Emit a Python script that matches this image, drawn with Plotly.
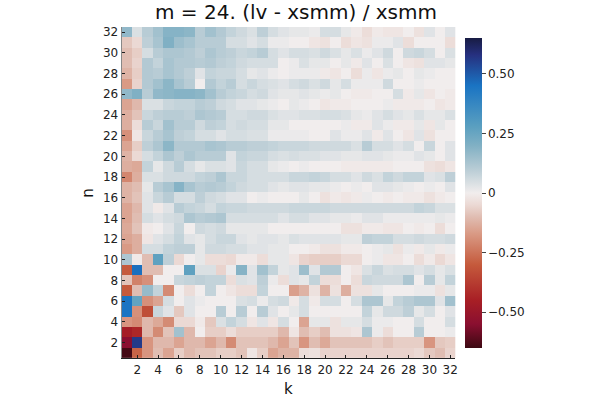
import plotly.graph_objects as go

k_values = list(range(1, 33))
n_values = list(range(1, 33))
x_tick_labels = [str(v) for v in range(2, 33, 2)]
y_tick_labels = [str(v) for v in range(2, 33, 2)]
cbar_tick_vals = [-0.5, -0.25, 0.0, 0.25, 0.5]
cbar_tick_text = ["\u22120.50", "\u22120.25", "0", "0.25", "0.50"]

# each row: values for k = 1..32
row_32 = [0.17,0.04,0.10,0.14,0.19,0.19,0.18,0.10,0.14,0.11,0.08,0.06,0.04,0.09,0.05,0.03,0.02,0.02,0.01,0.05,0.05,0.02,-0.01,-0.04,-0.01,-0.02,-0.02,0.00,-0.03,0.03,0.00,0.03]
row_31 = [-0.08,-0.05,0.09,0.13,0.20,0.15,0.13,0.10,0.10,0.10,0.05,0.05,0.03,0.05,0.01,0.01,0.00,0.00,-0.02,-0.03,0.00,-0.04,-0.02,-0.03,0.01,0.01,0.03,-0.04,0.00,0.00,0.00,-0.04]
row_30 = [-0.10,-0.07,0.05,0.10,0.12,0.12,0.11,0.09,0.12,0.10,0.09,0.07,0.08,0.10,0.05,0.03,0.05,0.05,0.04,0.06,0.04,0.02,0.04,0.01,0.03,0.06,0.00,0.06,0.07,0.05,0.00,0.04]
row_29 = [-0.10,-0.06,0.11,0.08,0.13,0.11,0.11,0.10,0.11,0.09,0.08,0.06,0.05,0.05,0.05,0.00,0.01,0.04,0.02,0.02,0.00,0.02,-0.01,0.03,0.00,0.04,0.00,-0.02,-0.03,0.03,0.03,0.02]
row_28 = [-0.12,-0.07,0.11,0.10,0.13,0.11,0.09,0.03,0.08,0.07,0.07,0.05,0.02,0.03,0.01,0.00,0.01,0.01,0.01,-0.01,-0.02,0.00,-0.04,0.01,-0.02,0.01,0.02,0.00,0.02,0.01,0.00,0.00]
row_27 = [-0.17,-0.06,0.11,0.14,0.18,0.13,0.10,0.00,0.11,0.08,0.10,0.05,0.07,0.05,0.04,0.03,0.05,0.06,0.04,0.06,0.02,0.05,0.01,0.01,0.01,0.06,0.00,0.00,0.01,0.00,0.00,0.00]
row_26 = [0.17,0.20,0.10,0.17,0.18,0.19,0.19,0.18,0.14,0.10,0.08,0.07,0.05,0.06,0.03,0.02,0.02,0.03,0.02,0.01,0.02,0.00,-0.01,-0.01,0.00,0.00,0.05,-0.01,0.02,-0.02,0.00,-0.01]
row_25 = [-0.15,-0.11,0.04,0.04,0.07,0.08,0.08,0.10,0.09,0.06,0.05,0.03,0.03,0.02,0.01,0.00,0.02,0.01,0.00,-0.02,-0.01,-0.01,0.00,0.00,0.00,0.01,-0.01,-0.01,-0.01,0.00,-0.02,-0.01]
row_24 = [-0.13,-0.09,0.07,0.09,0.10,0.10,0.09,0.12,0.11,0.10,0.05,0.05,0.06,0.06,0.04,0.03,0.03,0.04,0.04,0.05,0.05,0.04,0.02,0.01,0.03,0.05,0.03,0.02,0.04,0.02,0.02,0.04]
row_23 = [-0.13,-0.04,0.10,0.07,0.14,0.10,0.10,0.06,0.09,0.08,0.05,0.06,0.05,0.05,0.02,0.02,0.00,0.00,0.00,0.00,0.00,0.01,-0.01,-0.01,0.03,0.01,-0.01,-0.01,0.02,-0.02,0.02,0.00]
row_22 = [-0.19,-0.02,0.07,0.10,0.13,0.09,0.08,0.05,0.05,0.03,0.05,0.05,0.04,0.04,0.01,0.01,0.01,0.01,0.00,0.00,0.03,0.01,0.01,0.03,-0.01,0.03,0.00,-0.02,0.03,-0.03,0.00,0.00]
row_21 = [-0.15,-0.07,0.09,0.12,0.18,0.11,0.11,0.11,0.13,0.12,0.10,0.10,0.09,0.09,0.08,0.07,0.07,0.07,0.06,0.06,0.06,0.06,0.04,0.10,0.05,0.05,0.03,0.05,0.00,0.07,0.00,0.03]
row_20 = [-0.12,-0.05,0.05,0.08,0.12,0.09,0.12,0.10,0.10,0.10,0.03,0.08,0.07,0.07,0.05,0.04,0.05,0.04,0.04,0.03,0.03,0.02,0.02,0.03,0.03,0.02,0.01,0.01,0.03,0.02,0.00,0.03]
row_19 = [-0.13,-0.14,0.08,0.02,0.06,0.10,0.05,0.02,0.04,0.04,0.03,0.07,0.05,0.05,0.02,0.01,0.00,0.01,0.00,0.00,0.00,-0.01,-0.01,-0.01,-0.01,-0.01,0.00,0.00,0.00,-0.03,-0.04,-0.02]
row_18 = [-0.21,-0.13,0.04,0.04,0.06,0.06,0.06,0.08,0.09,0.12,0.07,0.07,0.05,0.05,0.05,0.05,0.07,0.07,0.08,0.07,0.05,0.05,0.03,0.06,0.04,0.08,0.06,0.08,0.08,0.03,0.04,0.09]
row_17 = [-0.12,-0.10,0.02,0.10,0.13,0.19,0.13,0.10,0.11,0.10,0.08,0.06,0.05,0.05,0.03,0.02,0.03,0.03,0.02,0.02,0.01,0.00,0.01,0.00,0.03,0.03,0.02,0.01,0.00,0.01,0.00,0.03]
row_16 = [-0.12,-0.09,0.03,0.07,0.10,0.05,0.05,0.09,0.06,0.05,0.03,0.03,0.00,0.01,0.00,0.00,0.00,0.02,0.00,-0.03,-0.01,-0.02,-0.01,0.01,0.00,-0.01,0.00,-0.01,-0.01,-0.03,-0.01,0.00]
row_15 = [-0.15,-0.11,0.03,-0.01,0.03,0.10,0.08,0.07,0.05,0.08,0.07,0.07,0.06,0.06,0.06,0.06,0.07,0.07,0.07,0.07,0.06,0.06,0.06,0.06,0.06,0.06,0.06,0.06,0.08,0.07,0.04,0.04]
row_14 = [-0.15,-0.10,0.05,0.03,0.05,0.06,0.12,0.10,0.11,0.12,0.05,0.05,0.05,0.05,0.05,0.03,0.05,0.05,0.03,0.03,0.02,0.02,0.01,0.03,0.03,0.01,0.01,0.01,0.01,0.01,0.02,0.01]
row_13 = [-0.14,-0.09,-0.01,0.00,0.03,0.07,0.00,0.06,0.05,0.06,0.02,0.02,0.02,0.02,0.00,0.00,0.00,0.00,0.00,0.00,0.00,-0.03,-0.03,-0.01,-0.01,-0.02,-0.02,0.00,-0.01,0.00,-0.04,0.00]
row_12 = [-0.15,-0.13,-0.02,0.03,0.05,0.08,0.03,0.02,0.05,0.07,0.07,0.03,0.02,0.03,0.03,0.02,0.04,0.03,0.03,0.03,0.03,0.02,0.02,0.09,0.08,0.08,0.05,0.05,0.06,0.05,0.05,0.06]
row_11 = [-0.17,-0.13,0.05,0.05,0.08,0.09,0.09,0.02,0.06,0.06,0.05,0.05,0.03,0.03,0.02,0.02,0.00,0.00,-0.01,-0.03,-0.03,-0.01,-0.01,0.00,0.01,0.02,-0.03,0.01,-0.01,0.02,-0.01,0.01]
row_10 = [0.12,-0.01,-0.10,0.27,0.09,-0.05,0.00,0.02,-0.04,-0.04,-0.05,-0.01,-0.01,-0.04,0.02,0.02,-0.02,-0.06,-0.07,-0.07,-0.07,-0.05,-0.05,0.00,0.01,-0.02,-0.02,0.00,-0.04,-0.01,-0.05,-0.02]
row_09 = [-0.30,0.46,-0.10,-0.10,0.00,0.00,0.27,0.04,0.04,-0.06,0.01,0.19,0.03,0.14,0.08,0.02,0.03,0.15,0.03,0.11,0.11,0.00,-0.02,0.04,0.07,0.04,0.05,0.05,0.03,0.05,0.02,0.04]
row_08 = [-0.09,-0.22,-0.19,0.00,0.00,0.07,0.08,0.09,0.08,0.08,-0.04,0.04,0.03,0.09,0.01,-0.04,0.03,0.02,0.08,-0.04,-0.04,0.00,-0.04,0.07,0.06,0.06,0.06,0.12,0.00,0.10,0.02,0.08]
row_07 = [-0.30,-0.10,0.16,0.08,-0.20,0.00,-0.04,0.00,0.08,0.00,-0.02,-0.04,-0.04,0.08,0.00,0.00,-0.16,-0.12,-0.03,-0.12,-0.03,-0.13,-0.03,-0.03,0.02,0.00,0.00,0.00,0.01,0.01,-0.03,0.02]
row_06 = [0.45,0.26,-0.19,-0.15,0.05,0.00,0.03,0.01,0.00,0.00,0.00,0.04,0.05,0.01,0.05,0.06,-0.01,0.05,-0.01,0.05,0.05,0.00,0.05,0.12,0.12,0.02,0.08,0.10,0.12,0.12,0.03,0.14]
row_05 = [0.45,-0.19,-0.33,0.07,0.03,-0.08,0.03,0.00,0.00,0.10,0.00,0.10,0.00,0.10,0.03,0.00,0.02,0.05,0.00,0.00,0.00,0.00,0.00,0.08,0.02,0.06,0.06,0.09,0.02,0.05,0.00,0.03]
row_04 = [-0.18,-0.20,-0.11,-0.14,-0.20,-0.05,-0.05,-0.01,-0.08,0.04,0.08,0.05,-0.02,0.03,-0.02,0.05,0.00,-0.15,0.02,0.02,-0.03,0.02,0.02,0.05,0.01,0.01,0.00,0.00,0.05,0.00,0.00,0.05]
row_03 = [-0.46,-0.43,-0.11,-0.20,-0.09,0.14,-0.11,0.00,-0.07,-0.07,-0.04,-0.07,-0.07,-0.07,-0.07,-0.11,-0.02,-0.10,-0.07,-0.10,-0.03,-0.03,-0.02,0.12,0.01,-0.04,0.00,0.00,0.10,0.00,0.00,0.01]
row_02 = [-0.55,0.56,-0.18,-0.11,-0.11,-0.15,-0.11,-0.11,-0.15,-0.11,-0.20,-0.09,-0.09,-0.09,-0.11,-0.15,-0.09,-0.18,-0.10,-0.14,-0.09,-0.09,-0.09,-0.09,-0.07,-0.09,-0.07,-0.07,-0.07,-0.18,-0.08,-0.07]
row_01 = [-0.64,-0.28,-0.18,-0.10,-0.15,-0.07,-0.11,-0.09,-0.09,-0.07,-0.07,-0.09,-0.02,-0.07,-0.15,-0.12,-0.12,-0.04,-0.03,-0.06,-0.06,-0.06,-0.06,-0.06,-0.06,-0.06,-0.06,-0.06,-0.05,-0.08,-0.10,-0.06]

z = [row_01, row_02, row_03, row_04, row_05, row_06, row_07, row_08,
     row_09, row_10, row_11, row_12, row_13, row_14, row_15, row_16,
     row_17, row_18, row_19, row_20, row_21, row_22, row_23, row_24,
     row_25, row_26, row_27, row_28, row_29, row_30, row_31, row_32]

FONT = "DejaVu Sans"
zlim = 0.65

# reversed cmocean "balance"-like diverging scale (red = negative, blue = positive)
colorscale = [
    [0.000, "#3c0912"],
    [0.077, "#8a0f30"],
    [0.154, "#a81f25"],
    [0.269, "#c55a3c"],
    [0.369, "#d99a85"],
    [0.423, "#e0bdb2"],
    [0.462, "#ebd9d4"],
    [0.500, "#f1eded"],
    [0.538, "#d5dde1"],
    [0.577, "#b8ccd5"],
    [0.615, "#9dbecc"],
    [0.654, "#80b0c4"],
    [0.715, "#5a9fc0"],
    [0.846, "#1a74c3"],
    [0.946, "#26307f"],
    [1.000, "#181c43"],
]

fig = go.Figure(
    go.Heatmap(
        x=k_values, y=n_values, z=z,
        colorscale=colorscale, zmin=-zlim, zmax=zlim,
        colorbar=dict(
            x=467/600, xanchor="left", xpad=0,
            y=(400 - 192)/400, yanchor="middle",
            len=332/400, lenmode="fraction",
            thickness=17, thicknessmode="pixels",
            outlinewidth=0,
            tickvals=cbar_tick_vals, ticktext=cbar_tick_text,
            ticks="outside", ticklen=4, tickcolor="#444",
            tickfont=dict(family=FONT, size=12, color="#222"),
        ),
    )
)

fig.update_layout(
    width=600, height=400,
    margin=dict(l=0, r=0, t=0, b=0),
    paper_bgcolor="white", plot_bgcolor="white",
    font=dict(family=FONT, color="#222"),
    title=dict(text="m = 24. (lv - xsmm) / xsmm", x=296/600, xanchor="center",
               y=1 - 12/400, yanchor="middle", font=dict(family=FONT, size=20, color="#111")),
    xaxis=dict(
        domain=[122/600, 457/600], range=[0.5, 32.5],
        tickvals=[int(t) for t in x_tick_labels], ticktext=x_tick_labels,
        ticks="inside", ticklen=3, tickcolor="#222",
        showline=True, linecolor="#222", linewidth=1, mirror=False,
        showgrid=False, zeroline=False,
        tickfont=dict(family=FONT, size=12, color="#222"),
    ),
    yaxis=dict(
        domain=[42/400, 375/400], range=[0.5, 32.5],
        tickvals=[int(t) for t in y_tick_labels], ticktext=y_tick_labels,
        ticks="inside", ticklen=3, tickcolor="#222",
        showline=True, linecolor="#888", linewidth=1, mirror=False,
        showgrid=False, zeroline=False,
        tickfont=dict(family=FONT, size=12, color="#222"),
    ),
    annotations=[
        dict(text="k", x=289.5/600, y=1 - 389/400, xref="paper", yref="paper",
             xanchor="center", yanchor="middle", showarrow=False,
             font=dict(family=FONT, size=15, color="#111")),
        dict(text="n", x=88/600, y=1 - 192/400, xref="paper", yref="paper",
             xanchor="center", yanchor="middle", showarrow=False, textangle=-90,
             font=dict(family=FONT, size=15, color="#111")),
    ],
)

fig.write_html("out.html")
